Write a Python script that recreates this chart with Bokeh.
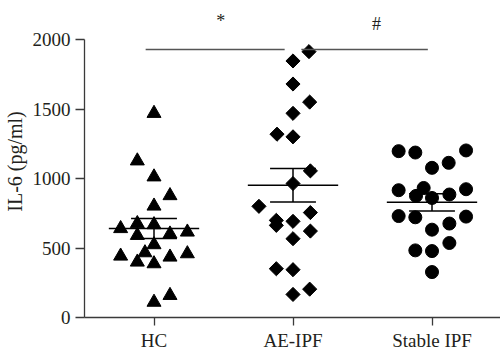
import math
from bokeh.plotting import figure
from bokeh.models import Range1d, FixedTicker
from bokeh.core.properties import value
from bokeh.embed import file_html
from bokeh.resources import INLINE

# ---- data ----
categories = ["HC", "AE-IPF", "Stable IPF"]
cat_pos = [1, 2, 3]

hc_values = [1469, 1127, 1012, 877, 802, 640, 676, 668, 591, 601, 615, 524, 466, 442, 399, 387, 435, 459, 110, 159]
hc_jitter = [0, -0.12, 0, 0.115, 0, -0.24, -0.12, 0, -0.12, 0.115, 0.24, 0, -0.065, -0.24, -0.12, 0, 0.115, 0.24, 0, 0.115]

ae_values = [1913, 1846, 1680, 1550, 1469, 1319, 1300, 1055, 964, 800, 755, 699, 692, 663, 622, 567, 351, 344, 166, 204]
ae_jitter = [0.115, 0, 0, 0.12, 0, -0.115, 0, 0.125, 0, -0.245, 0.125, -0.12, 0, -0.12, 0.125, 0, -0.12, 0, 0, 0.12]

st_values = [1197, 1187, 1202, 1113, 1077, 916, 932, 923, 875, 860, 885, 730, 721, 726, 632, 676, 536, 483, 478, 327]
st_jitter = [-0.24, -0.12, 0.245, 0.12, 0, -0.24, -0.06, 0.245, -0.115, 0, 0.125, -0.24, -0.12, 0.245, 0, 0.125, 0.125, -0.12, 0, 0]

means = [640, 952, 829]
sems = [72, 121, 62]

y_ticks = [0, 500, 1000, 1500, 2000]

sig_x0 = [0.94, 2.06]
sig_x1 = [1.94, 2.97]
sig_y = [1928, 1928]
sig_labels = ["*", "#"]
sig_label_x = [1.48, 2.60]
sig_label_y = [2130, 2110]

# ---- styles ----
FONT = "Liberation Serif"
TEXT = "#231f20"
LINE = "#3a3a3a"

p = figure(width=500, height=354, output_backend="svg", toolbar_location=None,
           frame_width=417, frame_height=312,
           min_border_left=83, min_border_right=0, min_border_top=5, min_border_bottom=37,
           x_range=Range1d(0.5, 3.5), y_range=Range1d(0, 2245))
p.outline_line_color = None
p.xgrid.grid_line_color = None
p.ygrid.grid_line_color = None
p.background_fill_color = "white"
p.border_fill_color = "white"

# axes
p.yaxis.ticker = FixedTicker(ticks=y_ticks)
p.yaxis.bounds = (0, 2000)
p.yaxis.minor_tick_line_color = None
p.yaxis.major_tick_in = 0
p.yaxis.major_tick_out = 9
p.yaxis.axis_label = "IL-6 (pg/ml)"
p.yaxis.axis_label_text_font = FONT
p.yaxis.axis_label_text_font_style = "normal"
p.yaxis.axis_label_text_font_size = "20px"
p.yaxis.axis_label_text_color = TEXT
p.yaxis.axis_label_standoff = 4
p.yaxis.major_label_standoff = 5
p.yaxis.major_label_text_font = FONT
p.yaxis.major_label_text_font_size = "19px"
p.yaxis.major_label_text_color = TEXT

p.xaxis.ticker = FixedTicker(ticks=cat_pos)
p.xaxis.major_label_overrides = {c: n for c, n in zip(cat_pos, categories)}
p.xaxis.minor_tick_line_color = None
p.xaxis.major_tick_in = 0
p.xaxis.major_tick_out = 8
p.xaxis.major_label_standoff = 4
p.xaxis.major_label_text_font = FONT
p.xaxis.major_label_text_font_size = "19px"
p.xaxis.major_label_text_color = TEXT

for ax in (p.xaxis, p.yaxis):
    ax.axis_line_color = LINE
    ax.axis_line_width = 1.3
    ax.major_tick_line_color = LINE
    ax.major_tick_line_width = 1.3

# points
hc_x = [cat_pos[0] + j for j in hc_jitter]
ae_x = [cat_pos[1] + j for j in ae_jitter]
st_x = [cat_pos[2] + j for j in st_jitter]

p.scatter(hc_x, hc_values, marker="triangle", size=14, color="black")
p.scatter(ae_x, ae_values, marker="square", size=10, angle=math.pi / 4, color="black")
p.scatter(st_x, st_values, marker="circle", size=13, color="black")

# mean and SEM
MEAN_HW = 0.325
CAP_HW = 0.165
tops = [m + s for m, s in zip(means, sems)]
bots = [m - s for m, s in zip(means, sems)]
p.segment([c - MEAN_HW for c in cat_pos], means, [c + MEAN_HW for c in cat_pos], means,
          line_color="black", line_width=1.5)
p.segment(cat_pos, bots, cat_pos, tops, line_color="black", line_width=1.5)
p.segment([c - CAP_HW for c in cat_pos], tops, [c + CAP_HW for c in cat_pos], tops,
          line_color="black", line_width=1.5)
p.segment([c - CAP_HW for c in cat_pos], bots, [c + CAP_HW for c in cat_pos], bots,
          line_color="black", line_width=1.5)

# significance
p.segment(sig_x0, sig_y, sig_x1, sig_y, line_color="#555555", line_width=1.5)
p.text(sig_label_x, sig_label_y, text=sig_labels, text_font=value(FONT), text_font_size="18px",
       text_align="center", text_baseline="alphabetic", text_color=TEXT)

open("out.html", "w").write(file_html(p, INLINE))
